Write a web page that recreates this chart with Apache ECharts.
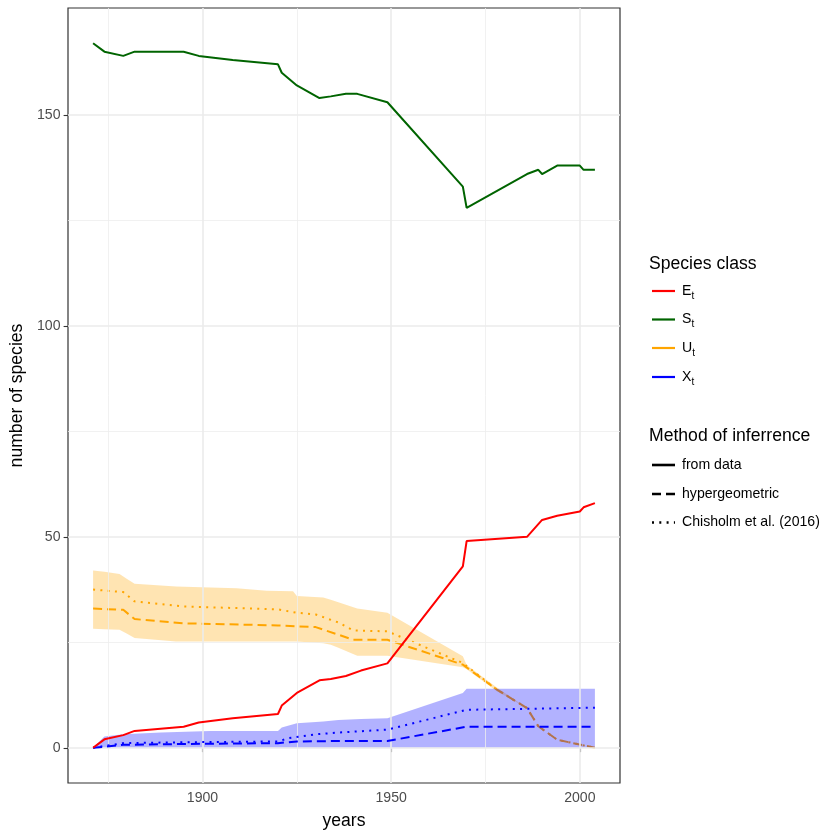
<!DOCTYPE html>
<html><head><meta charset="utf-8">
<script src="https://cdn.jsdelivr.net/npm/echarts@6/dist/echarts.min.js"></script>
<style>html,body{margin:0;padding:0;background:#fff}#c{width:840px;height:840px}</style>
</head><body><div id="c"></div>
<script>
// ---- axis ticks & gridlines ----
const xTicks = [1900, 1950, 2000];
const yTicks = [0, 50, 100, 150];
const xGridMinor = [1875, 1925, 1975];
const yGridMinor = [25, 75, 125];

// ---- E_t (from data) ----
const eYears = [1871,1874,1879,1882,1895,1899,1908,1920,1921,1925,1931,1934,1938,1942,1949,1969,1970,1986,1990,1994,2000,2001,2004];
const eVals  = [0,2,3,4,5,6,7,8,10,13,16,16.3,17,18.3,20,43,49,50,54,55,56,57,58];

// ---- S_t (from data) ----
const sYears = [1871,1874,1879,1882,1895,1899,1908,1920,1921,1925,1931,1934,1938,1941,1949,1969,1970,1986,1989,1990,1994,2000,2001,2004];
const sVals  = [167,165,164,165,165,164,163,162,160,157,154,154.4,155,155,153,133,128,136,137,136,138,138,137,137];

// ---- U_t hypergeometric / Chisholm ----
const uHypYears = [1871,1879,1882,1895,1920,1930,1940,1949,1969,1978,1986,1989,1994,2004];
const uHypVals  = [33,32.7,30.5,29.5,29,28.6,25.6,25.6,19.7,13.8,9.4,5.1,1.9,0];
const uChiYears = [1871,1879,1882,1895,1920,1925,1930,1936,1940,1949,1969,1978,1986,1989,1994,2004];
const uChiVals  = [37.5,36.9,34.7,33.5,32.8,32,31.6,29.7,27.8,27.6,20.1,13.8,9.4,5.1,1.9,0];

// ---- U_t band ----
const uBandYears = [1871,1874,1878,1880,1882,1893,1909,1917,1924,1925,1932,1934,1936,1941,1949,1969,1970,1978,1986];
const uBandHi    = [42,41.7,41.2,40,38.9,38.2,37.8,37.2,37.1,36,35.6,35.1,34.5,33,32,21.7,19.6,14.3,9.4];
const uBandLo    = [28.2,28.1,28,27,26,25.2,25.2,25.2,25.2,25.2,24.8,24.4,23.7,21.8,21.8,19.1,18.6,13.4,9.4];

// ---- X_t hypergeometric / Chisholm ----
const xHypYears = [1871,1879,1895,1920,1925,1936,1949,1970,2004];
const xHypVals  = [0,0.7,0.9,1.1,1.5,1.6,1.6,5,5];
const xChiYears = [1871,1879,1895,1920,1923,1930,1936,1949,1970,2004];
const xChiVals  = [0,1.1,1.3,1.5,2.3,3.2,3.6,4.3,9,9.5];

// ---- X_t band ----
const xBandYears = [1871,1874,1879,1889,1902,1920,1921,1925,1932,1936,1942,1949,1969,1970,2004];
const xBandHi    = [0,2.7,3.2,3.6,4,4,4.8,5.8,6.2,6.6,6.8,7,13,14,14];
const xBandLo    = [0,0,0,0,0,0,0,0,0,0,0,0,0,0,0];

// ---- legend texts ----
const classLetters = ['E','S','U','X'];
const classColors = ['#FF0000','#006400','#FFA500','#0000FF'];
const methodLabels = ['from data','hypergeometric','Chisholm et al. (2016)'];

const FONT = 'Liberation Sans, Arial, Helvetica, sans-serif';
const DASH = [9,5];
const DOT = [2,5.3];
const pairs = (xs, ys) => xs.map((x, i) => [x, ys[i]]);

function bandSeries(years, hi, lo, fill, z) {
  return {
    type: 'custom', z: z, silent: true, clip: true,
    data: [[years[0], lo[0]]],
    renderItem: function (params, api) {
      const pts = [];
      for (let i = 0; i < years.length; i++) pts.push(api.coord([years[i], hi[i]]));
      for (let i = years.length - 1; i >= 0; i--) pts.push(api.coord([years[i], lo[i]]));
      return { type: 'polygon', shape: { points: pts }, style: { fill: fill, stroke: null } };
    }
  };
}
function lineSeries(xs, ys, color, dash, z) {
  return {
    type: 'line', z: z, silent: true, showSymbol: false, symbol: 'none',
    data: pairs(xs, ys),
    lineStyle: { color: color, width: 2, type: dash, cap: 'butt' }
  };
}

const gridMark = {
  type: 'line', z: 1, silent: true, symbol: 'none', showSymbol: false,
  data: [[xTicks[0], yTicks[0]]],
  lineStyle: { opacity: 0 },
  markLine: {
    silent: true, symbol: ['none','none'], animation: false,
    label: { show: false },
    data: [
      ...xGridMinor.map(v => ({ xAxis: v, lineStyle: { color: '#EEEEEE', width: 0.8, type: 'solid' } })),
      ...yGridMinor.map(v => ({ yAxis: v, lineStyle: { color: '#EEEEEE', width: 0.8, type: 'solid' } })),
      ...xTicks.map(v => ({ xAxis: v, lineStyle: { color: '#EBEBEB', width: 1.6, type: 'solid' } })),
      ...yTicks.map(v => ({ yAxis: v, lineStyle: { color: '#EBEBEB', width: 1.6, type: 'solid' } }))
    ]
  }
};

// legend graphics
const graphic = [];
const KX1 = 652, KX2 = 675, TX = 682;
graphic.push({ type: 'text', left: 649, top: 255, silent: true,
  style: { text: 'Species class', fontSize: 17.6, fontFamily: FONT, fill: '#000' } });
const subOffsets = { E: 9.4, S: 9.4, U: 10.2, X: 9.4 };
const classY = [291, 319.5, 348, 377];
classLetters.forEach((L, i) => {
  const y = classY[i];
  graphic.push({ type: 'line', silent: true, shape: { x1: KX1, y1: y, x2: KX2, y2: y },
    style: { stroke: classColors[i], lineWidth: 2.2 } });
  graphic.push({ type: 'text', x: TX, y: y, silent: true,
    style: { text: L, fontSize: 14.1, fontFamily: FONT, fill: '#000', textVerticalAlign: 'middle', verticalAlign: 'middle' } });
  graphic.push({ type: 'text', x: TX + subOffsets[L], y: y + 5, silent: true,
    style: { text: 't', fontSize: 10, fontFamily: FONT, fill: '#000', textVerticalAlign: 'middle', verticalAlign: 'middle' } });
});
graphic.push({ type: 'text', left: 649, top: 427, silent: true,
  style: { text: 'Method of inferrence', fontSize: 17.6, fontFamily: FONT, fill: '#000' } });
const methodY = [465, 494, 522.5];
const methodDash = ['solid', DASH, DOT];
methodLabels.forEach((t, i) => {
  const y = methodY[i];
  graphic.push({ type: 'line', silent: true, shape: { x1: KX1, y1: y, x2: KX2, y2: y },
    style: { stroke: '#000', lineWidth: 2.6, lineDash: methodDash[i] === 'solid' ? null : methodDash[i] } });
  graphic.push({ type: 'text', x: TX, y: y, silent: true,
    style: { text: t, fontSize: 14.1, fontFamily: FONT, fill: '#000', textVerticalAlign: 'middle', verticalAlign: 'middle' } });
});

const chart = echarts.init(document.getElementById('c'), null, { renderer: 'canvas' });
chart.setOption({
  animation: false,
  backgroundColor: '#fff',
  textStyle: { fontFamily: FONT },
  grid: { left: 68, right: 220, top: 8, bottom: 57, show: true, backgroundColor: 'transparent', borderColor: '#333333', borderWidth: 1.2, containLabel: false },
  xAxis: {
    type: 'value', min: 1864.35, max: 2010.65,
    name: 'years', nameLocation: 'middle', nameGap: 29,
    nameTextStyle: { fontSize: 17.6, color: '#000', fontFamily: FONT },
    axisLine: { show: false },
    axisTick: { show: true, length: 4.4, customValues: xTicks, lineStyle: { color: '#333333', width: 1.1 } },
    axisLabel: { show: true, customValues: xTicks, margin: 8.5, fontSize: 14.1, color: '#4D4D4D', fontFamily: FONT,
      formatter: v => String(v) },
    splitLine: { show: false }
  },
  yAxis: {
    type: 'value', min: -8.35, max: 175.35,
    name: 'number of species', nameLocation: 'middle', nameGap: 39,
    nameTextStyle: { fontSize: 17.6, color: '#000', fontFamily: FONT },
    axisLine: { show: false },
    axisTick: { show: true, length: 4.4, customValues: yTicks, lineStyle: { color: '#333333', width: 1.1 } },
    axisLabel: { show: true, customValues: yTicks, margin: 7.5, fontSize: 14.1, color: '#4D4D4D', fontFamily: FONT,
      formatter: v => String(v) },
    splitLine: { show: false }
  },
  graphic: graphic,
  series: [
    gridMark,
    bandSeries(uBandYears, uBandHi, uBandLo, 'rgba(255,165,0,0.3)', 2),
    lineSeries(uHypYears, uHypVals, '#FFA500', DASH, 3),
    lineSeries(uChiYears, uChiVals, '#FFA500', DOT, 3),
    bandSeries(xBandYears, xBandHi, xBandLo, 'rgba(0,0,255,0.3)', 4),
    lineSeries(xHypYears, xHypVals, '#0000FF', DASH, 5),
    lineSeries(xChiYears, xChiVals, '#0000FF', DOT, 5),
    lineSeries(eYears, eVals, '#FF0000', 'solid', 6),
    lineSeries(sYears, sVals, '#006400', 'solid', 6)
  ]
});
</script>
</body></html>
